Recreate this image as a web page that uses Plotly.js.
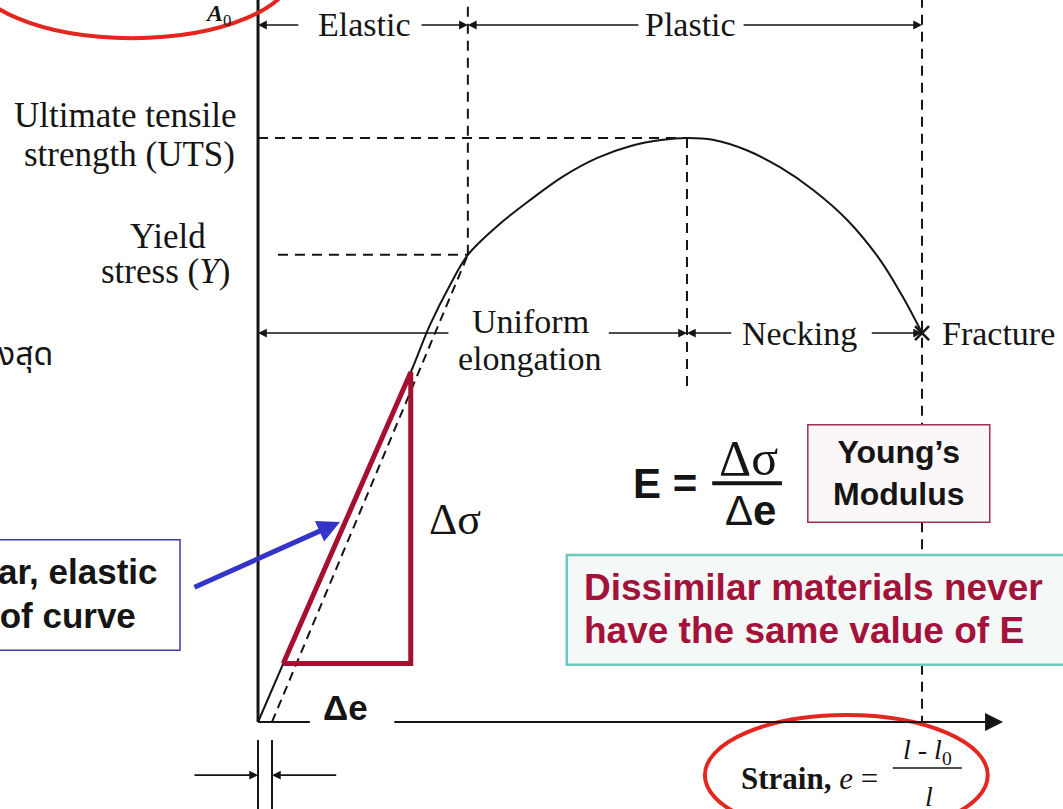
<!DOCTYPE html>
<html>
<head>
<meta charset="utf-8">
<script src="https://cdn.plot.ly/plotly-3.0.1.min.js"></script>
<style>
  html, body { margin: 0; padding: 0; background: #ffffff; }
  #chart { width: 1063px; height: 809px; }
</style>
</head>
<body>
<div id="chart"></div>
<script>
// Engineering stress-strain curve (strain normalised to fracture strain,
// stress normalised to the ultimate tensile strength).
const strain = [0, 0.063, 0.139, 0.230, 0.259, 0.289, 0.316, 0.360, 0.410, 0.459, 0.511,
                0.560, 0.610, 0.646, 0.685, 0.736, 0.786, 0.836, 0.887, 0.937, 0.971, 1.000];
const stress = [0, 0.166, 0.363, 0.599, 0.680, 0.748, 0.800, 0.849, 0.894, 0.934, 0.966,
                0.986, 0.997, 1.000, 0.997, 0.979, 0.950, 0.911, 0.860, 0.791, 0.728, 0.666];

// 0.2 % offset line used to find the yield point
const offsetStrain = [0.021, 0.316];
const offsetStress = [0, 0.800];

// Slope triangle on the elastic region (Δσ over Δe)
const triStrain = [0.038, 0.230, 0.230, 0.038];
const triStress = [0.100, 0.599, 0.100, 0.100];

// Key points on the curve
const eYield = 0.316, sYield = 0.800;
const eUTS = 0.646,  sUTS = 1.000;
const eFrac = 1.000, sFrac = 0.666;

// Labels
const regionLabels = ['Elastic', 'Plastic'];
const stageLabels = ['Uniform', 'elongation', 'Necking', 'Fracture'];
const stressLabels = ['Ultimate tensile', 'strength (UTS)', 'Yield', 'stress (<i>Y</i>)'];

const SERIF = '"Liberation Serif", "Times New Roman", serif';
const SANS = '"Liberation Sans", Arial, sans-serif';
const INK = '#151515';
const CRIMSON = '#a3123a';

const traces = [
  { x: strain, y: stress, type: 'scatter', mode: 'lines',
    line: { color: INK, width: 2, shape: 'spline', smoothing: 1.0 }, hoverinfo: 'skip' },
  { x: offsetStrain, y: offsetStress, type: 'scatter', mode: 'lines',
    line: { color: INK, width: 2, dash: '9px,6px' }, hoverinfo: 'skip' },
  { x: triStrain, y: triStress, type: 'scatter', mode: 'lines',
    line: { color: '#a50f30', width: 5 }, hoverinfo: 'skip' },
  { x: [eFrac], y: [sFrac], type: 'scatter', mode: 'markers',
    marker: { symbol: 'x-thin-open', size: 14, color: INK, line: { color: INK, width: 2.5 } },
    hoverinfo: 'skip' }
];

function dashed(x0, y0, x1, y1) {
  return { type: 'line', xref: 'x', yref: 'y', x0, y0, x1, y1, layer: 'below',
           line: { color: INK, width: 2, dash: '10px,7px' } };
}
function solid(x0, y0, x1, y1, w) {
  return { type: 'line', xref: 'x', yref: 'y', x0, y0, x1, y1,
           line: { color: INK, width: w || 2 } };
}
function arrow(xTail, yTail, xHead, yHead, o) {
  o = o || {};
  return { x: xHead, y: yHead, ax: xTail, ay: yTail, xref: 'x', yref: 'y',
           axref: 'x', ayref: 'y', text: '', showarrow: true,
           arrowhead: o.head || 2, arrowsize: o.size || 1.1, arrowwidth: o.width || 1.6,
           arrowcolor: o.color || INK, standoff: 0 };
}
function label(text, x, y, font, xanchor, yanchor) {
  return { x, y, xref: 'x', yref: 'y', text, showarrow: false,
           xanchor: xanchor || 'center', yanchor: yanchor || 'middle', font };
}

const serif34 = { family: SERIF, size: 34, color: INK };
const serif35 = { family: SERIF, size: 35, color: INK };
const sansBold = (s, c) => ({ family: SANS, size: s, color: c || INK, weight: 'bold' });

const shapes = [
  // boxes
  { type: 'rect', xref: 'x', yref: 'y', x0: 0.465, x1: 1.23, y0: 0.098, y1: 0.286,
    fillcolor: '#f4f8f7', line: { color: '#6cc9bd', width: 2.5 } },
  { type: 'rect', xref: 'x', yref: 'y', x0: 0.828, x1: 1.102, y0: 0.342, y1: 0.509,
    fillcolor: '#fbf7f8', line: { color: '#a03050', width: 1.5 } },
  { type: 'rect', xref: 'x', yref: 'y', x0: -0.41, x1: -0.1175, y0: 0.123, y1: 0.312,
    fillcolor: '#ffffff', line: { color: '#3a3fa0', width: 1.5 } },
  // guide lines
  dashed(0, sUTS, eUTS, sUTS),
  dashed(0.03, sYield, eYield, sYield),
  dashed(eYield, sYield, eYield, 1.228),
  dashed(eUTS, sUTS, eUTS, 0.565),
  dashed(eFrac, 1.24, eFrac, 0.509),
  dashed(eFrac, 0.342, eFrac, 0.286),
  dashed(eFrac, 0.098, eFrac, 0),
  // axes
  solid(0, 0, 0, 1.24, 3),
  solid(0, 0, 0.078, 0, 2),
  solid(0, -0.031, 0, -0.16, 2),
  solid(0.021, -0.031, 0.021, -0.16, 2),
  // fraction bars
  solid(0.684, 0.409, 0.789, 0.409, 4),
  { type: 'line', xref: 'x', yref: 'y', x0: 0.956, x1: 1.060, y0: -0.079, y1: -0.079,
    line: { color: INK, width: 1.5 } },
  // highlight ellipses
  { type: 'circle', xref: 'x', yref: 'y', x0: -0.434, x1: 0.054, y0: 1.171, y1: 1.404,
    line: { color: '#e3261e', width: 4 } },
  { type: 'circle', xref: 'x', yref: 'y', x0: 0.673, x1: 1.099, y0: -0.194, y1: 0.012,
    line: { color: '#e3261e', width: 4 } }
];

const annotations = [
  // strain axis
  arrow(0.203, 0, 1.122, 0, { width: 2, size: 1.8 }),
  // initial gauge offset markers
  arrow(-0.098, -0.091, 0, -0.091),
  arrow(0.120, -0.091, 0.021, -0.091),
  // elastic / plastic ranges
  arrow(0.063, 1.1935, 0, 1.1935),
  arrow(0.244, 1.1935, eYield, 1.1935),
  arrow(0.575, 1.1935, eYield, 1.1935),
  arrow(0.729, 1.1935, eFrac, 1.1935),
  label(regionLabels[0], 0.161, 1.1935, serif34),
  label(regionLabels[1], 0.652, 1.1935, serif34),
  // uniform elongation / necking
  arrow(0.289, sFrac, 0, sFrac),
  arrow(0.526, sFrac, eUTS, sFrac),
  arrow(0.715, sFrac, eUTS, sFrac),
  arrow(0.922, sFrac, eFrac, sFrac),
  label(stageLabels[0], 0.41, 0.685, serif34),
  label(stageLabels[1], 0.41, 0.623, serif34),
  label(stageLabels[2], 0.816, sFrac, serif34),
  label(stageLabels[3], 1.027, sFrac, serif34, 'left'),
  // stress levels
  label(stressLabels[0], -0.200, 1.039, serif35),
  label(stressLabels[1], -0.194, 0.971, serif35),
  label(stressLabels[2], -0.136, 0.832, serif35),
  label(stressLabels[3], -0.139, 0.771, serif35),
  // stress definition
  label('Engineering stress, σ = ', -0.150, 1.236, { family: SERIF, size: 30, color: INK }, 'right', 'bottom'),
  label('<b><i>A</i></b><sub>0</sub>', -0.060, 1.211, { family: SERIF, size: 24, color: INK }),
  // Thai caption
  label('ค่าสูงสุด', -0.3057, 0.628, { family: '"Noto Sans Thai", "Noto Sans", "DejaVu Sans", sans-serif', size: 32, color: INK }, 'right'),
  // elastic region callout
  label('Linear, elastic', -0.1476, 0.257, sansBold(35), 'right'),
  label('region of curve', -0.1807, 0.183, sansBold(35), 'right'),
  arrow(-0.098, 0.2295, 0.1235, 0.3425, { color: '#3434c8', width: 5, size: 0.9 }),
  // slope triangle labels
  label('Δσ', 0.297, 0.346, { family: SERIF, size: 44, color: INK }),
  label('Δe', 0.131, 0.024, sansBold(35)),
  // Young's modulus
  label('<b>E =</b>', 0.613, 0.409, { family: SANS, size: 42, color: INK }),
  label('Δσ', 0.738, 0.452, { family: SERIF, size: 50, color: INK }),
  label('Δ<b>e</b>', 0.741, 0.362, { family: SANS, size: 42, color: INK }),
  label('Young’s<br>Modulus', 0.965, 0.426, sansBold(32)),
  label('Dissimilar materials never', 0.488, 0.2295, sansBold(37, CRIMSON), 'left'),
  label('have the same value of E', 0.488, 0.1575, sansBold(37, CRIMSON), 'left'),
  // strain definition
  label('<b>Strain,</b> <i>e</i> =', 0.937, -0.096, { family: SERIF, size: 31, color: INK }, 'right'),
  label('<i>l</i> - <i>l</i><sub>0</sub>', 1.008, -0.050, { family: SERIF, size: 28, color: INK }),
  label('<i>l</i>', 1.010, -0.128, { family: SERIF, size: 28, color: INK })
];

const layout = {
  width: 1063, height: 809,
  margin: { l: 0, r: 0, t: 0, b: 0 },
  paper_bgcolor: '#ffffff', plot_bgcolor: '#ffffff',
  showlegend: false,
  xaxis: { range: [-0.3886, 1.2123], visible: false, fixedrange: true },
  yaxis: { range: [-0.1490, 1.2363], visible: false, fixedrange: true },
  shapes, annotations
};

Plotly.newPlot('chart', traces, layout, { displayModeBar: false, staticPlot: true });
</script>
</body>
</html>
